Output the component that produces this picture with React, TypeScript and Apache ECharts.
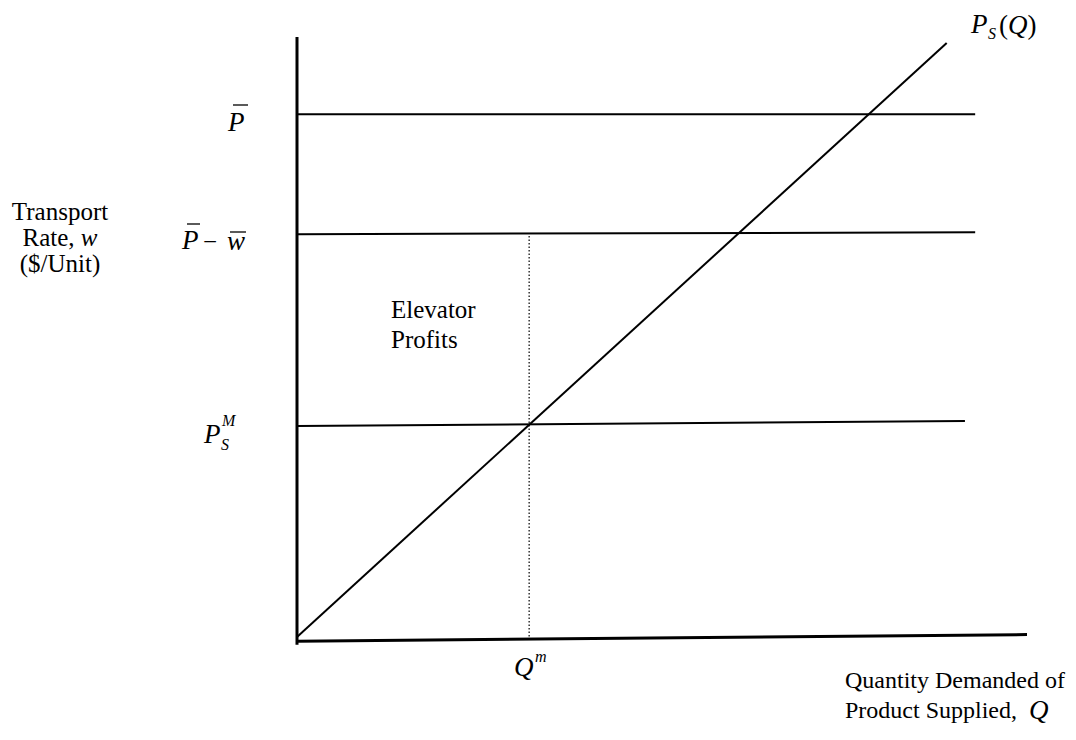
import React, { useEffect, useRef } from "react";
import * as echarts from "echarts";

// Conceptual diagram values (x: quantity 0..100, y: price 0..100)
const supplyCurve = [[0, 0.5], [89, 99]];
const priceBar = [[0, 87.2], [92.9, 87.2]];
const priceNet = [[0, 67.3], [92.9, 67.6]];
const priceSupplyM = [[0, 35.5], [91.5, 36.3]];
const qmLine = [[31.8, 0], [31.8, 67.3]];
const yAxisLine = [[0, -0.8], [0, 100]];
const xAxisLine = [[0, -0.2], [100, 0.9]];

const SERIF = "'Liberation Serif', 'Times New Roman', serif";

function lineSeries(data: number[][], width: number, type: any = "solid") {
  return {
    type: "line",
    data,
    symbol: "none",
    clip: false,
    silent: true,
    lineStyle: { color: "#000", width, type },
  };
}

function txt(x: number, y: number, text: string, size: number, italic: boolean, align = "left", extra: any = {}) {
  return {
    type: "text",
    x,
    y,
    silent: true,
    style: {
      text,
      fontFamily: SERIF,
      fontSize: size,
      fontStyle: italic ? "italic" : "normal",
      fill: "#000",
      align,
      verticalAlign: "middle",
      ...extra,
    },
  };
}

function bar(x1: number, x2: number, y: number) {
  return {
    type: "line",
    silent: true,
    shape: { x1, y1: y, x2, y2: y },
    style: { stroke: "#000", lineWidth: 1.3 },
  };
}

export default function App() {
  const ref = useRef<HTMLDivElement>(null);
  useEffect(() => {
    if (!ref.current) return;
    const chart = echarts.init(ref.current, null, { renderer: "svg" });
    chart.setOption({
      animation: false,
      backgroundColor: "#fff",
      grid: { left: 297, right: 49, top: 37, bottom: 100 },
      xAxis: { type: "value", min: 0, max: 100, show: false },
      yAxis: { type: "value", min: 0, max: 100, show: false },
      series: [
        lineSeries(yAxisLine, 3),
        lineSeries(xAxisLine, 3),
        lineSeries(priceBar, 2),
        lineSeries(priceNet, 2),
        lineSeries(priceSupplyM, 2),
        lineSeries(supplyCurve, 2),
        lineSeries(qmLine, 1.2, [1.5, 2]),
      ],
      graphic: [
        // Y-axis title
        {
          type: "text",
          x: 60,
          y: 237,
          silent: true,
          style: {
            text: "Transport\nRate, {i|w}\n($/Unit)",
            fontFamily: SERIF,
            fontSize: 25,
            lineHeight: 26,
            fill: "#000",
            align: "center",
            verticalAlign: "middle",
            rich: {
              i: { fontFamily: SERIF, fontSize: 25, fontStyle: "italic", fill: "#000" },
            },
          },
        },
        // P bar
        txt(228, 122, "P", 27, true),
        bar(233, 248, 105),
        // P bar - w bar
        txt(182, 240, "P", 27, true),
        bar(187, 200, 224),
        txt(203, 241, "\u2212", 25, false),
        txt(227, 241, "w", 27, true),
        bar(230, 246, 232),
        // P_S^M
        txt(204, 434, "P", 27, true),
        txt(222, 420, "M", 16, true),
        txt(221, 444, "S", 16, true),
        // Elevator Profits
        {
          type: "text",
          x: 391,
          y: 324,
          silent: true,
          style: {
            text: "Elevator\nProfits",
            fontFamily: SERIF,
            fontSize: 25,
            lineHeight: 30,
            fill: "#000",
            align: "left",
            verticalAlign: "middle",
          },
        },
        // P_S(Q)
        txt(971, 24, "P", 27, true),
        txt(988, 33, "S", 16, true),
        {
          type: "text",
          x: 999,
          y: 25,
          silent: true,
          style: {
            text: "({i|Q})",
            fontFamily: SERIF,
            fontSize: 27,
            fill: "#000",
            align: "left",
            verticalAlign: "middle",
            rich: {
              i: { fontFamily: SERIF, fontSize: 27, fontStyle: "italic", fill: "#000" },
            },
          },
        },
        // Q^m
        txt(514, 667, "Q", 27, true),
        txt(535, 656, "m", 16, true),
        // X-axis title
        {
          type: "text",
          x: 845,
          y: 695,
          silent: true,
          style: {
            text: "Quantity Demanded of\nProduct Supplied,  {q|Q}",
            fontFamily: SERIF,
            fontSize: 24,
            lineHeight: 30,
            fill: "#000",
            align: "left",
            verticalAlign: "middle",
            rich: {
              q: { fontFamily: SERIF, fontSize: 27, fontStyle: "italic", fill: "#000" },
            },
          },
        },
      ],
    });
    return () => chart.dispose();
  }, []);
  return (
    <div
      ref={ref}
      style={{ position: "fixed", left: 0, top: 0, width: 1076, height: 740, background: "#fff" }}
    />
  );
}
